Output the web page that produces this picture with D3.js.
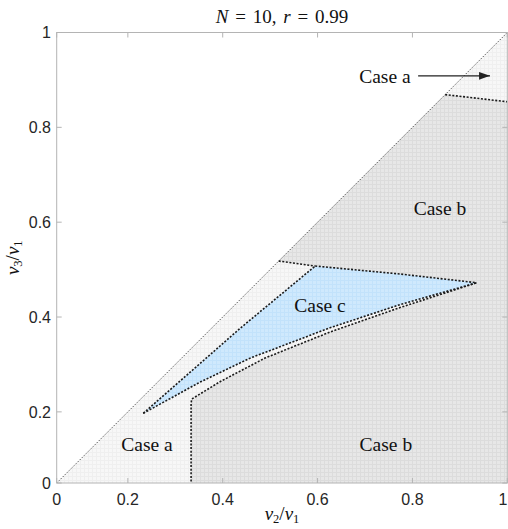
<!DOCTYPE html>
<html><head><meta charset="utf-8">
<script src="https://cdn.jsdelivr.net/npm/d3@7"></script>
<style>body{margin:0;background:#fff}</style>
</head><body>
<svg id="c" width="508" height="529"></svg>
<script>
// ---- data ----
const xTickValues = [0.05, 0.2, 0.4, 0.6, 0.8, 1];
const xTickLabels = ["0", "0.2", "0.4", "0.6", "0.8", "1"];
const yTickValues = [0.05, 0.2, 0.4, 0.6, 0.8, 1];
const yTickLabels = ["0", "0.2", "0.4", "0.6", "0.8", "1"];
const diagonal = [[0, 0], [1, 1]];
// lower Case b upper boundary (vertical at v2/v1 = 1/3, then curve to the tip)
const bLowerEdge = [[1/3, 0], [1/3, 0.218], [0.3346, 0.227], [0.3943, 0.2636], [0.4892, 0.3135], [0.6262, 0.3684], [0.7738, 0.42], [0.9355, 0.4723]];
// Case c region edges
const cLower = [[0.2326, 0.197], [0.3521, 0.2627], [0.4576, 0.3133], [0.6262, 0.3774], [0.7738, 0.4261], [0.9355, 0.4723]];
const cLeft = [[0.2326, 0.197], [0.4365, 0.376], [0.595, 0.5075]];
const cTop = [[0.595, 0.5075], [0.7738, 0.4907], [0.9355, 0.4723]];
// upper Case b boundaries
const bUpperLeft = [[0.518, 0.518], [0.595, 0.5075]];
const bTopRight = [[0.869, 0.869], [1, 0.854]];
// annotations
const labels = [
  {text: "Case a", x: 0.742, y: 0.908},
  {text: "Case b", x: 0.858, y: 0.628},
  {text: "Case c", x: 0.605, y: 0.425},
  {text: "Case a", x: 0.2404, y: 0.130},
  {text: "Case b", x: 0.744, y: 0.132}
];
const arrow = [[0.812, 0.9087], [0.9636, 0.9087]];

// ---- drawing ----
const svg = d3.select("#c");
const L = 56.7, R = 507.3, T = 32.5, B = 483;
const x = d3.scaleLinear().domain([0.05, 1]).range([L, R]);
const y = d3.scaleLinear().domain([0.05, 1]).range([B, T]);
const line = d3.line().x(d => x(d[0])).y(d => y(d[1]));

const defs = svg.append("defs");
defs.append("clipPath").attr("id", "clip").append("rect")
  .attr("x", L).attr("y", T).attr("width", R - L).attr("height", B - T);
function pat(id, bg, ln) {
  const p = defs.append("pattern").attr("id", id).attr("patternUnits", "userSpaceOnUse")
    .attr("width", 4).attr("height", 4);
  p.append("rect").attr("width", 4).attr("height", 4).attr("fill", bg);
  p.append("rect").attr("width", 4).attr("height", 1).attr("fill", ln);
  p.append("rect").attr("width", 1).attr("height", 4).attr("fill", ln);
}
pat("pa", "#f7f7f7", "#efefef");
pat("pb", "#e7e7e7", "#dcdcdc");
pat("pc", "#cfe9fd", "#c2e2fb");

const g = svg.append("g").attr("clip-path", "url(#clip)");

// Case a: whole region below diagonal
const lowerTri = [[0, 0], [1, 0], [1, 1]];
g.append("path").attr("d", line(lowerTri) + "Z").attr("fill", "url(#pa)");

// Case b polygon
const rev = a => a.slice().reverse();
const diagSeg = [bUpperLeft[0], bTopRight[0]];
const bPoly = [].concat(
  bLowerEdge,
  rev(cTop),
  rev(bUpperLeft).slice(1),
  diagSeg.slice(1),
  bTopRight.slice(1),
  [[1, 0]]
);
g.append("path").attr("d", line(bPoly) + "Z").attr("fill", "url(#pb)");

// Case c polygon
const cPoly = [].concat(cLeft, cTop.slice(1), rev(cLower).slice(1));
g.append("path").attr("d", line(cPoly) + "Z").attr("fill", "url(#pc)");

// diagonal
g.append("path").attr("d", line(diagonal)).attr("fill", "none")
  .attr("stroke", "#333").attr("stroke-width", 0.8).attr("stroke-dasharray", "1.5,1.5");

// dashed boundaries
[bLowerEdge, cLower, cLeft, cTop, bUpperLeft, bTopRight].forEach(d => {
  g.append("path").attr("d", line(d)).attr("fill", "none")
    .attr("stroke", "#1a1a1a").attr("stroke-width", 1.6).attr("stroke-dasharray", "2,1.6");
});

// axes box
const axCol = "#b4b4b4";
svg.append("rect").attr("x", L).attr("y", T).attr("width", R - L).attr("height", B - T)
  .attr("fill", "none").attr("stroke", axCol).attr("stroke-width", 1);
const tk = 5;
xTickValues.forEach(v => {
  svg.append("line").attr("x1", x(v)).attr("x2", x(v)).attr("y1", B).attr("y2", B - tk).attr("stroke", axCol);
  svg.append("line").attr("x1", x(v)).attr("x2", x(v)).attr("y1", T).attr("y2", T + tk).attr("stroke", axCol);
});
yTickValues.forEach(v => {
  svg.append("line").attr("y1", y(v)).attr("y2", y(v)).attr("x1", L).attr("x2", L + tk).attr("stroke", axCol);
  svg.append("line").attr("y1", y(v)).attr("y2", y(v)).attr("x1", R).attr("x2", R - tk).attr("stroke", axCol);
});
const tf = "'Liberation Sans', Arial, sans-serif";
const nX = xTickValues.length;
svg.append("g").selectAll("text").data(xTickValues).join("text")
  .attr("x", (d, i) => i === nX - 1 ? 507.5 : x(d)).attr("y", 505)
  .attr("text-anchor", (d, i) => i === nX - 1 ? "end" : "middle")
  .attr("font-family", tf).attr("font-size", 16).attr("fill", "#262626")
  .text((d, i) => xTickLabels[i]);
svg.append("g").selectAll("text").data(yTickValues).join("text")
  .attr("x", 51).attr("y", d => y(d)).attr("dy", "0.36em").attr("text-anchor", "end")
  .attr("font-family", tf).attr("font-size", 16).attr("fill", "#262626")
  .text((d, i) => yTickLabels[i]);

// region labels
const sf = "'Liberation Serif', 'DejaVu Serif', serif";
svg.append("g").selectAll("text").data(labels).join("text")
  .attr("x", d => x(d.x)).attr("y", d => y(d.y)).attr("dy", "0.33em")
  .attr("text-anchor", "middle").attr("font-family", sf).attr("font-size", 19.5)
  .attr("fill", "#111").text(d => d.text);

// arrow
defs.append("marker").attr("id", "ah").attr("viewBox", "0 0 10 10").attr("refX", 10).attr("refY", 5)
  .attr("markerWidth", 11).attr("markerHeight", 11).attr("markerUnits", "userSpaceOnUse").attr("orient", "auto")
  .append("path").attr("d", "M0,1.5L10,5L0,8.5Z").attr("fill", "#222");
svg.append("path").attr("d", line(arrow)).attr("stroke", "#222").attr("stroke-width", 1.2)
  .attr("fill", "none").attr("marker-end", "url(#ah)");

// title
const title = svg.append("text").attr("x", (L + R) / 2).attr("y", 23).attr("text-anchor", "middle")
  .attr("font-family", sf).attr("font-size", 19).attr("word-spacing", "2px").attr("fill", "#111");
title.append("tspan").attr("font-style", "italic").text("N");
title.append("tspan").text(" = 10, ");
title.append("tspan").attr("font-style", "italic").text("r");
title.append("tspan").text(" = 0.99");

// axis labels
function ratio(sel, a, b) {
  sel.append("tspan").attr("font-style", "italic").text("v");
  sel.append("tspan").attr("font-size", 12.5).attr("dy", 3).text(a);
  sel.append("tspan").attr("dy", -3).text("/");
  sel.append("tspan").attr("font-style", "italic").text("v");
  sel.append("tspan").attr("font-size", 12.5).attr("dy", 3).text(b);
}
const xl = svg.append("text").attr("x", (L + R) / 2).attr("y", 520).attr("text-anchor", "middle")
  .attr("font-family", sf).attr("font-size", 19).attr("fill", "#111");
ratio(xl, "2", "1");
const yl = svg.append("text").attr("transform", `translate(19,${(T + B) / 2}) rotate(-90)`)
  .attr("text-anchor", "middle").attr("font-family", sf).attr("font-size", 19).attr("fill", "#111");
ratio(yl, "3", "1");
</script>
</body></html>
